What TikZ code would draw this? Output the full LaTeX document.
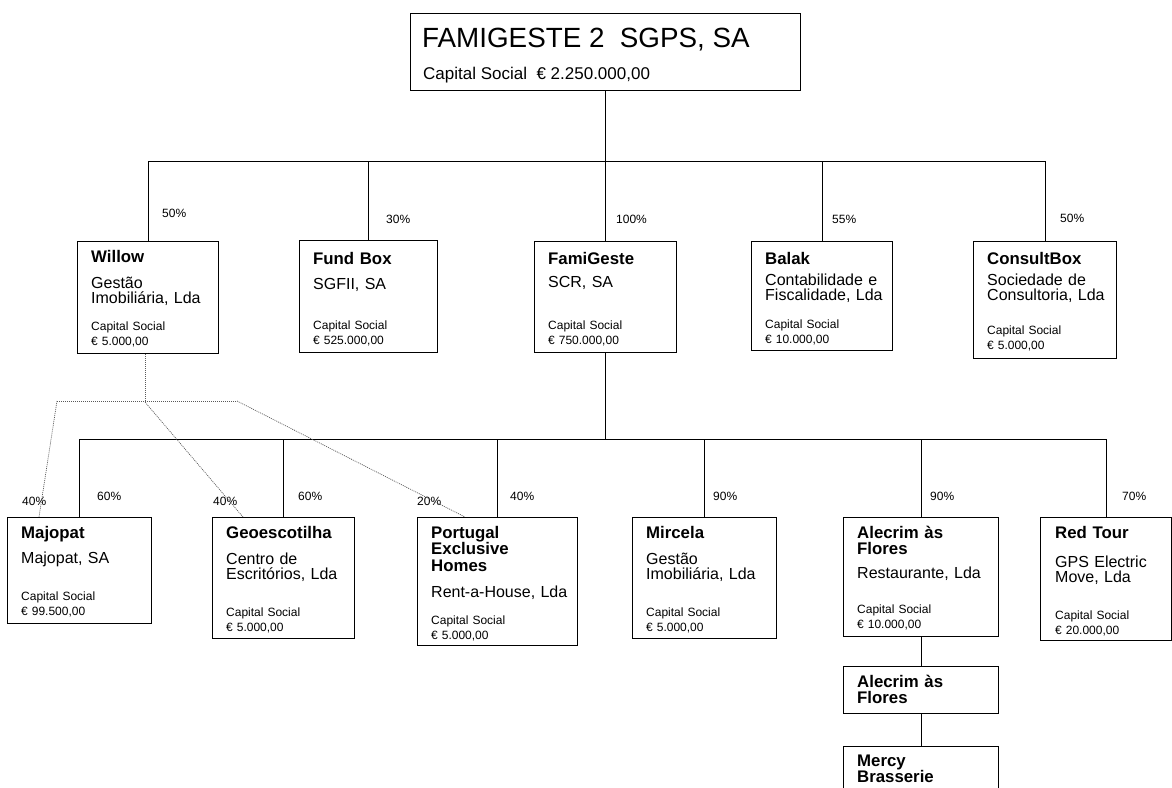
\documentclass[tikz,border=0pt]{standalone}
\usepackage{fontspec}
\setmainfont{Liberation Sans}
\usetikzlibrary{positioning}

\begin{document}
\begin{tikzpicture}[x=1pt, y=-1pt,
    firma/.style={draw, line width=1.2pt, inner sep=0, anchor=north west},
    nome/.style={anchor=base west, inner sep=0, text width=150pt, align=left,
      font=\fontsize{16.8}{16.7}\selectfont\bfseries},
    desc/.style={anchor=base west, inner sep=0, text width=150pt, align=left,
      font=\fontsize{16}{15}\selectfont},
    capital/.style={anchor=base west, inner sep=0, text width=150pt, align=left,
      font=\fontsize{12}{15}\selectfont},
    pct/.style={anchor=base west, inner sep=0, font=\fontsize{12}{12}\selectfont},
    liga/.style={line width=1pt},
    pontilhado/.style={line width=0.7pt, black!65, dash pattern=on 1pt off 1pt}]
      \clip (0,0) rectangle (1172,787);
      % holding
      \node[firma, minimum width=390pt, minimum height=77pt] (famigeste2) at (410,13) {};
      \node[anchor=base west, inner sep=0, font=\fontsize{27.8}{27.8}\selectfont] (famigeste2-n) at (422,47) {FAMIGESTE 2\ \ SGPS, SA};
      \node[anchor=base west, inner sep=0, font=\fontsize{17}{17}\selectfont] (famigeste2-k) at (423,79) {Capital Social\ \ € 2.250.000,00};
      % first level
      \node[firma, minimum width=141pt, minimum height=112pt] (willow) at (77,241) {};
      \node[firma, minimum width=138pt, minimum height=112pt] (fundbox) at (299,240) {};
      \node[firma, minimum width=142pt, minimum height=111pt] (famigeste) at (534,241) {};
      \node[firma, minimum width=141pt, minimum height=109pt] (balak) at (751,241) {};
      \node[firma, minimum width=143pt, minimum height=117pt] (consultbox) at (973,241) {};
      \node[nome] (willow-n) at (91,262) {Willow};
      \node[desc] (willow-d) at (91,288) {Gestão\\Imobiliária, Lda};
      \node[capital] (willow-k) at (91,330) {Capital Social\\€ 5.000,00};
      \node[nome] (fundbox-n) at (313,264) {Fund Box};
      \node[desc] (fundbox-d) at (313,289) {SGFII, SA};
      \node[capital] (fundbox-k) at (313,329) {Capital Social\\€ 525.000,00};
      \node[nome] (famigeste-n) at (548,264) {FamiGeste};
      \node[desc] (famigeste-d) at (548,287) {SCR, SA};
      \node[capital] (famigeste-k) at (548,329) {Capital Social\\€ 750.000,00};
      \node[nome] (balak-n) at (765,264) {Balak};
      \node[desc] (balak-d) at (765,285) {Contabilidade e\\Fiscalidade, Lda};
      \node[capital] (balak-k) at (765,328) {Capital Social\\€ 10.000,00};
      \node[nome] (consultbox-n) at (987,264) {ConsultBox};
      \node[desc] (consultbox-d) at (987,285) {Sociedade de\\Consultoria, Lda};
      \node[capital] (consultbox-k) at (987,334) {Capital Social\\€ 5.000,00};
      % second level
      \node[firma, minimum width=144pt, minimum height=106pt] (majopat) at (7,517) {};
      \node[firma, minimum width=142pt, minimum height=121pt] (geoescotilha) at (212,517) {};
      \node[firma, minimum width=160pt, minimum height=128pt] (portugal) at (417,517) {};
      \node[firma, minimum width=144pt, minimum height=121pt] (mircela) at (632,517) {};
      \node[firma, minimum width=155pt, minimum height=119pt] (alecrim) at (843,517) {};
      \node[firma, minimum width=131pt, minimum height=123pt] (redtour) at (1040,517) {};
      \node[firma, minimum width=155pt, minimum height=47pt] (alecrim2) at (843,666) {};
      \node[firma, minimum width=155pt, minimum height=60pt] (mercy) at (843,746) {};
      \node[nome] (majopat-n) at (21,538) {Majopat};
      \node[desc] (majopat-d) at (21,563) {Majopat, SA};
      \node[capital] (majopat-k) at (21,600) {Capital Social\\€ 99.500,00};
      \node[nome] (geoescotilha-n) at (226,538) {Geoescotilha};
      \node[desc] (geoescotilha-d) at (226,564) {Centro de\\Escritórios, Lda};
      \node[capital] (geoescotilha-k) at (226,616) {Capital Social\\€ 5.000,00};
      \node[nome] (portugal-n) at (431,538) {Portugal\\Exclusive\\Homes};
      \node[desc] (portugal-d) at (431,597) {Rent-a-House, Lda};
      \node[capital] (portugal-k) at (431,624) {Capital Social\\€ 5.000,00};
      \node[nome] (mircela-n) at (646,538) {Mircela};
      \node[desc] (mircela-d) at (646,564) {Gestão\\Imobiliária, Lda};
      \node[capital] (mircela-k) at (646,616) {Capital Social\\€ 5.000,00};
      \node[nome] (alecrim-n) at (857,538) {Alecrim às\\Flores};
      \node[desc] (alecrim-d) at (857,578) {Restaurante, Lda};
      \node[capital] (alecrim-k) at (857,613) {Capital Social\\€ 10.000,00};
      \node[nome] (redtour-n) at (1055,538) {Red Tour};
      \node[desc] (redtour-d) at (1055,567) {GPS Electric\\Move, Lda};
      \node[capital] (redtour-k) at (1055,619) {Capital Social\\€ 20.000,00};
      \node[nome] (alecrim2-n) at (857,687) {Alecrim às\\Flores};
      \node[nome] (mercy-n) at (857,766) {Mercy\\Brasserie};
      % percentages
      \node[pct] (willow-p) at (162,217) {50\%};
      \node[pct] (fundbox-p) at (386,223) {30\%};
      \node[pct] (famigeste-p) at (616,223) {100\%};
      \node[pct] (balak-p) at (832,223) {55\%};
      \node[pct] (consultbox-p) at (1060,222) {50\%};
      \node[pct] (majopat-q) at (22,505) {40\%};
      \node[pct] (majopat-p) at (97,500) {60\%};
      \node[pct] (geoescotilha-q) at (213,505) {40\%};
      \node[pct] (geoescotilha-p) at (298,500) {60\%};
      \node[pct] (portugal-q) at (417,505) {20\%};
      \node[pct] (portugal-p) at (510,500) {40\%};
      \node[pct] (mircela-p) at (713,500) {90\%};
      \node[pct] (alecrim-p) at (930,500) {90\%};
      \node[pct] (redtour-p) at (1122,500) {70\%};
      % connectors
      \draw[liga] (famigeste2.south) -- ++(0,70) coordinate (n1);
      \foreach \f in {willow,fundbox,famigeste,balak,consultbox}
        \draw[liga] (n1) -| (\f.north);
      \draw[liga] (famigeste.south) -- ++(0,86) coordinate (n2);
      \foreach \f in {majopat,geoescotilha,portugal,mircela,alecrim,redtour}
        \draw[liga] (n2) -| (\f.north);
      \draw[liga] (alecrim.south) -- (alecrim2.north);
      \draw[liga] (alecrim2.south) -- (mercy.north);
      % willow holdings
      \draw[pontilhado] ([xshift=-3pt]willow.south) -- ++(0,48) coordinate (w1);
      \coordinate (w0) at (57,401);
      \coordinate (w2) at (237,401);
      \draw[pontilhado] (w0) -- (w2);
      \draw[pontilhado] (w0) -- ([xshift=32pt]majopat.north west);
      \draw[pontilhado] (w1) -- ([xshift=31pt]geoescotilha.north west);
      \draw[pontilhado] (w2) -- ([xshift=48pt]portugal.north west);
\end{tikzpicture}
\end{document}
